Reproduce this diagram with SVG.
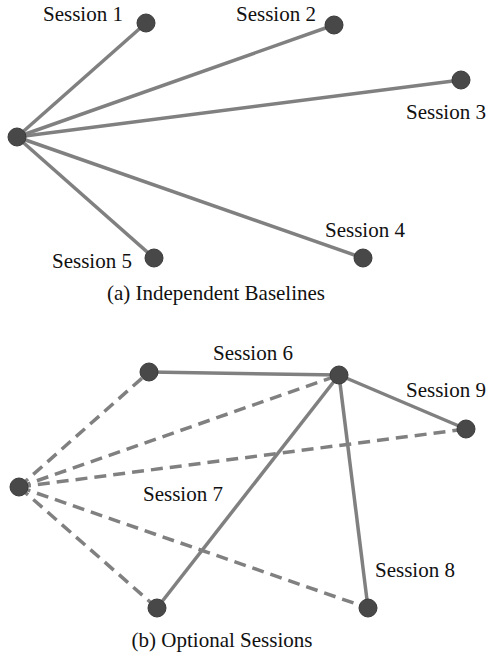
<svg xmlns="http://www.w3.org/2000/svg" width="488" height="657" viewBox="0 0 488 657">
<style>
.e{stroke:#808080;stroke-width:3.5;fill:none;stroke-linecap:butt}
.d{stroke-dasharray:12 7}
.n{fill:#484848;stroke:#3a3a3a;stroke-width:1}
text{font-family:"Liberation Serif","Times New Roman",serif;font-size:21px;fill:#111}
</style>
<rect width="488" height="657" fill="#fff"/>
<g id="connectors">
<line class="e" x1="17" y1="137" x2="146" y2="23"/>
<line class="e" x1="17" y1="137" x2="334" y2="25"/>
<line class="e" x1="17" y1="137" x2="461" y2="80"/>
<line class="e" x1="17" y1="137" x2="363" y2="258"/>
<line class="e" x1="17" y1="137" x2="154" y2="258"/>
<line class="e" x1="149" y1="372" x2="339" y2="375"/>
<line class="e" x1="339" y1="375" x2="466" y2="429"/>
<line class="e" x1="339" y1="375" x2="157" y2="608"/>
<line class="e" x1="339" y1="375" x2="368" y2="608"/>
<line class="e d" x1="19" y1="487" x2="149" y2="372"/>
<line class="e d" x1="19" y1="487" x2="339" y2="375"/>
<line class="e d" x1="19" y1="487" x2="466" y2="429"/>
<line class="e d" x1="19" y1="487" x2="157" y2="608"/>
<line class="e d" x1="19" y1="487" x2="368" y2="608"/>
</g>
<g id="hubA"><circle class="n" cx="17" cy="137" r="9"/></g>
<g id="s1"><circle class="n" cx="146" cy="23" r="9"/><text x="43" y="21">Session 1</text></g>
<g id="s2"><circle class="n" cx="334" cy="25" r="9"/><text x="236" y="21">Session 2</text></g>
<g id="s3"><circle class="n" cx="461" cy="80" r="9"/><text x="406" y="119">Session 3</text></g>
<g id="s4"><circle class="n" cx="363" cy="258" r="9"/><text x="325" y="237">Session 4</text></g>
<g id="s5"><circle class="n" cx="154" cy="258" r="9"/><text x="52" y="268">Session 5</text></g>
<g id="captionA"><text x="216" y="300" text-anchor="middle">(a) Independent Baselines</text></g>
<g id="hubB"><circle class="n" cx="19" cy="487" r="9"/></g>
<g id="s6"><circle class="n" cx="149" cy="372" r="9"/><text x="213" y="360">Session 6</text></g>
<g id="hubTop"><circle class="n" cx="339" cy="375" r="9"/></g>
<g id="s9"><circle class="n" cx="466" cy="429" r="9"/><text x="406" y="397">Session 9</text></g>
<g id="s7"><circle class="n" cx="157" cy="608" r="9"/><text x="143" y="501">Session 7</text></g>
<g id="s8"><circle class="n" cx="368" cy="608" r="9"/><text x="375" y="577">Session 8</text></g>
<g id="captionB"><text x="222" y="647" text-anchor="middle">(b) Optional Sessions</text></g>
</svg>
